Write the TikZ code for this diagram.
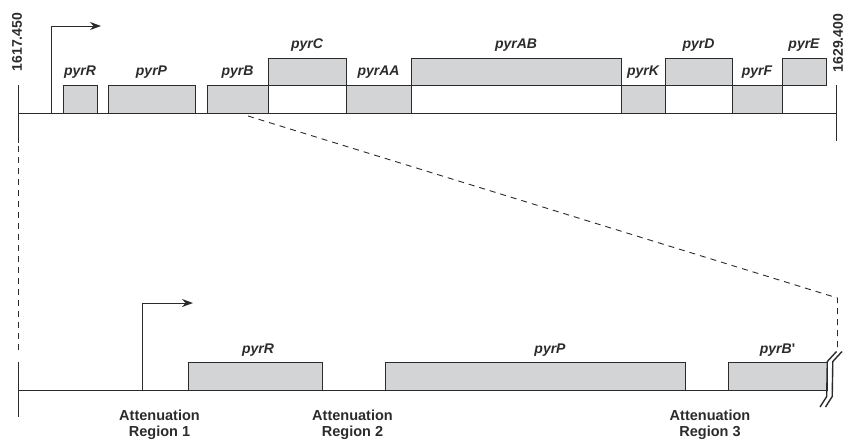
\documentclass[tikz,border=0pt]{standalone}
\usepackage{fontspec}
\setmainfont{Liberation Sans}
\usetikzlibrary{arrows.meta}
\definecolor{ink}{HTML}{2B2B2B}
\definecolor{genefill}{HTML}{D3D4D6}
\begin{document}
\begin{tikzpicture}[x=1pt,y=-1pt,
  ln/.style={draw=ink, line width=0.9pt},
  gene/.style={ln, fill=genefill, inner sep=0pt, outer sep=0pt, anchor=north west},
  glab/.style={font=\fontsize{14}{15}\selectfont\bfseries\itshape, anchor=base, inner sep=0pt, text=ink},
  att/.style={font=\fontsize{14.5}{16}\selectfont\bfseries, align=center, inner sep=0pt, anchor=north, text=ink},
  num/.style={font=\fontsize{14}{16}\selectfont\bfseries, rotate=90, inner sep=0pt, text=ink},
  dsh/.style={ln, dash pattern=on 6pt off 5pt},
  tip/.style={-{Stealth[length=11pt,width=8pt]}},
  brk/.style={draw=ink, line width=1.4pt}]
\useasboundingbox (0,0) rectangle (845,440);

% ---------- top map ----------
\coordinate (tl) at (18,113);
\coordinate (tr) at (836,113);
\coordinate (tlu) at (18,85);
\coordinate (tld) at (18,143);
\coordinate (tru) at (836,85);
\coordinate (trd) at (836,141);

\node[num] (n1) at (17,42) {1617.450};
\node[num] (n2) at (838,43) {1629.400};

% lower row genes
\node[gene, minimum width=34pt, minimum height=28pt] (R) at (63,85) {};
\node[gene, minimum width=87pt, minimum height=28pt] (P) at (108,85) {};
\node[gene, minimum width=61pt, minimum height=28pt] (B) at (207,85) {};
\node[gene, minimum width=65pt, minimum height=28pt] (AA) at (346,85) {};
\node[gene, minimum width=44pt, minimum height=28pt] (K) at (621,85) {};
\node[gene, minimum width=50pt, minimum height=28pt] (F) at (732,85) {};
% upper row genes
\node[gene, minimum width=78pt, minimum height=27pt] (C) at (268,58) {};
\node[gene, minimum width=210pt, minimum height=27pt] (AB) at (411,58) {};
\node[gene, minimum width=67pt, minimum height=27pt] (D) at (665,58) {};
\node[gene, minimum width=44pt, minimum height=27pt] (E) at (782,58) {};

\node[glab] (lR) at ([yshift=10pt]R.north) {pyrR};
\node[glab] (lP) at ([yshift=10pt]P.north) {pyrP};
\node[glab] (lB) at ([yshift=10pt]B.north) {pyrB};
\node[glab] (lAA) at ([yshift=10pt]AA.north) {pyrAA};
\node[glab] (lK) at ([yshift=10pt]K.north) {pyrK};
\node[glab] (lF) at ([yshift=10pt]F.north) {pyrF};
\node[glab] (lC) at ([yshift=10pt]C.north) {pyrC};
\node[glab] (lAB) at ([yshift=10pt]AB.north) {pyrAB};
\node[glab] (lD) at ([yshift=10pt]D.north) {pyrD};
\node[glab] (lE) at ([yshift=10pt]E.north) {pyrE};

\draw[ln] (tl) -- (tr);
\draw[ln] (tlu) -- (tld);
\draw[ln] (tru) -- (trd);

% promoter arrow top
\coordinate (pa0) at (51,113);
\coordinate (pa1) at (51,26);
\coordinate (pa2) at (101,26);
\draw[ln, tip] (pa0) -- (pa1) -- (pa2);

% ---------- zoom dashed lines ----------
\coordinate (zs) at (248,116);
\coordinate (zc) at (837.5,298);
\coordinate (ze) at (837.5,350);
\draw[dsh] (zs) -- (zc) -- (ze);
\coordinate (ld1) at (18,146);
\coordinate (ld2) at (18,350);
\draw[dsh] (ld1) -- (ld2);

% ---------- bottom detail ----------
\coordinate (bl) at (18,390);
\coordinate (br) at (827,390);
\coordinate (blu) at (18,362);
\coordinate (bld) at (18,417);

\node[gene, minimum width=134pt, minimum height=28pt] (R2) at (188,362) {};
\node[gene, minimum width=300pt, minimum height=28pt] (P2) at (385,362) {};
\node[gene, minimum width=99pt, minimum height=28pt] (B2) at (728,362) {};

\node[glab] (lR2) at ([xshift=3pt,yshift=9pt]R2.north) {pyrR};
\node[glab] (lP2) at ([xshift=15pt,yshift=9pt]P2.north) {pyrP};
\node[glab] (lB2) at ([yshift=9pt]B2.north) {pyrB{\upshape\textquotesingle}};

\draw[ln] (bl) -- (br);
\draw[ln] (blu) -- (bld);

\coordinate (pb0) at (142,390);
\coordinate (pb1) at (142,303);
\coordinate (pb2) at (193,303);
\draw[ln, tip] (pb0) -- (pb1) -- (pb2);

% break marks
\draw[brk] (820,407) -- (826.7,396.5) -- (827.3,361.5) -- (836.5,351.5);
\draw[brk] (825.5,407) -- (832.2,396.5) -- (832.8,361.5) -- (842,351.5);

\node[att] (a1) at (159.5,410) {Attenuation\\Region 1};
\node[att] (a2) at (352.5,410) {Attenuation\\Region 2};
\node[att] (a3) at (710,410) {Attenuation\\Region 3};
\end{tikzpicture}
\end{document}
